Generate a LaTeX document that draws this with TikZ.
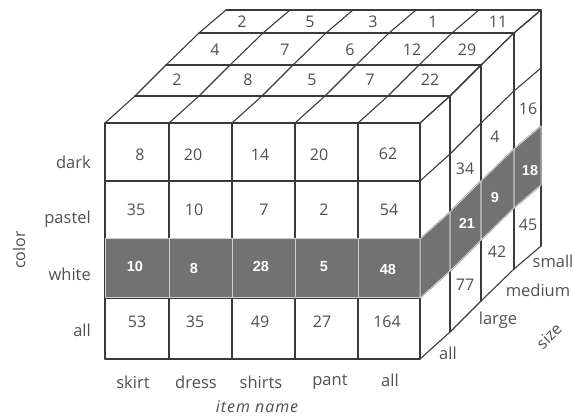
\documentclass[tikz,border=0pt]{standalone}
\usepackage{fontspec}
\usetikzlibrary{calc}
\setmainfont{Open Sans}
\newfontfamily\boldnum{Liberation Sans}[BoldFont={Liberation Sans Bold}]
\newfontfamily\axfont{Open Sans}[LetterSpace=6]
\definecolor{ln}{HTML}{3A3A3A}
\definecolor{tx}{HTML}{505050}
\definecolor{band}{HTML}{727272}
\definecolor{bandline}{HTML}{D0D0D0}
\tikzset{
  grid/.style={draw=ln, line width=1.1pt, line join=round, line cap=round},
  bandcell/.style={fill=band, draw=bandline, line width=1pt, line join=round},
  num/.style={text=tx, font=\fontsize{16}{18}\selectfont, inner sep=0pt},
  wnum/.style={text=white, font=\boldnum\bfseries\fontsize{14.5}{16}\selectfont, inner sep=0pt},
  lab/.style={text=tx, font=\fontsize{16.5}{18}\selectfont, inner sep=0pt},
  axlab/.style={text=tx, font=\axfont\itshape\fontsize{16}{18}\selectfont, inner sep=0pt},
  rotlab/.style={text=tx, font=\fontsize{16}{18}\selectfont, inner sep=0pt}
}
\begin{document}
\begin{tikzpicture}[x=1pt,y=-1pt]
\useasboundingbox (0,0) rectangle (574,419);
% front grid coordinates
\foreach \x [count=\i from 0] in {105,169,232,295,358,420}{
  \foreach \y [count=\j from 0] in {123,181,239,298,359}{
    \coordinate (f-\i-\j) at (\x,\y);
  }
}
% depth offsets
\foreach \dx/\dy [count=\k from 0] in {0/0,30/-27,61/-58,94/-90,121/-113}{
  \foreach \x [count=\i from 0] in {105,169,232,295,358,420}{
    \coordinate (t-\i-\k) at ($(\x,123)+(\dx,\dy)$);
  }
  \foreach \y [count=\j from 0] in {123,181,239,298,359}{
    \coordinate (r-\k-\j) at ($(420,\y)+(\dx,\dy)$);
  }
}
% grey band fills
\foreach \i [evaluate=\i as \ii using int(\i+1)] in {0,...,4}{
  \fill[band] (f-\i-2) rectangle (f-\ii-3);
}
\foreach \k [evaluate=\k as \kk using int(\k+1)] in {0,...,3}{
  \fill[band] (r-\k-2) -- (r-\kk-2) -- (r-\kk-3) -- (r-\k-3) -- cycle;
}
% front face
\foreach \j in {0,...,4}{ \draw[grid] (f-0-\j) -- (f-5-\j); }
\foreach \i in {0,...,5}{ \draw[grid] (f-\i-0) -- (f-\i-4); }
% top face
\foreach \k in {1,...,4}{ \draw[grid] (t-0-\k) -- (t-5-\k); }
\foreach \i in {0,...,5}{ \draw[grid] (t-\i-0) -- (t-\i-1) -- (t-\i-2) -- (t-\i-3) -- (t-\i-4); }
% right face
\foreach \k in {1,...,4}{ \draw[grid] (r-\k-0) -- (r-\k-4); }
\foreach \j in {0,...,4}{ \draw[grid] (r-0-\j) -- (r-1-\j) -- (r-2-\j) -- (r-3-\j) -- (r-4-\j); }
% grey band outlines
\foreach \i [evaluate=\i as \ii using int(\i+1)] in {0,...,4}{
  \draw[bandcell] (f-\i-2) rectangle (f-\ii-3);
}
\foreach \k [evaluate=\k as \kk using int(\k+1)] in {0,...,3}{
  \draw[bandcell] (r-\k-2) -- (r-\kk-2) -- (r-\kk-3) -- (r-\k-3) -- cycle;
}
% front numbers
\node[num] (n11) at (140,155) {8};
\node[num] (n12) at (193,155) {20};
\node[num] (n13) at (260,155) {14};
\node[num] (n14) at (319,155) {20};
\node[num] (n15) at (388,154) {62};
\node[num] (n21) at (136,210) {35};
\node[num] (n22) at (194,210) {10};
\node[num] (n23) at (264,210) {7};
\node[num] (n24) at (324,210) {2};
\node[num] (n25) at (389,210) {54};
\node[wnum] (n31) at (135,267) {10};
\node[wnum] (n32) at (194,269) {8};
\node[wnum] (n33) at (261,267) {28};
\node[wnum] (n34) at (324,267) {5};
\node[wnum] (n35) at (388,270) {48};
\node[num] (n41) at (137,322) {53};
\node[num] (n42) at (195,322) {35};
\node[num] (n43) at (260,322) {49};
\node[num] (n44) at (322,322) {27};
\node[num] (n45) at (387,322) {164};
% top numbers
\node[num] (s1) at (242,22) {2};
\node[num] (s2) at (310,22) {5};
\node[num] (s3) at (373,22) {3};
\node[num] (s4) at (433,22) {1};
\node[num] (s5) at (498,22) {11};
\node[num] (m1) at (215,50) {4};
\node[num] (m2) at (285,50) {7};
\node[num] (m3) at (350,50) {6};
\node[num] (m4) at (412,50) {12};
\node[num] (m5) at (467,50) {29};
\node[num] (l1) at (177,80) {2};
\node[num] (l2) at (248,80) {8};
\node[num] (l3) at (312,80) {5};
\node[num] (l4) at (370,80) {7};
\node[num] (l5) at (430,80) {22};
% right face numbers
\node[num] (rl1) at (465,169) {34};
\node[wnum] (rl2) at (467,223) {21};
\node[num] (rl3) at (465,285) {77};
\node[num] (rm1) at (495,137) {4};
\node[wnum] (rm2) at (495,198) {9};
\node[num] (rm3) at (497,252) {42};
\node[num] (rs1) at (528,109) {16};
\node[wnum] (rs2) at (530,171) {18};
\node[num] (rs3) at (528,225) {45};
% row labels
\node[lab, anchor=east] (dark) at (91,162) {dark};
\node[lab, anchor=east] (pastel) at (91,219) {pastel};
\node[lab, anchor=east] (white) at (91,274) {white};
\node[lab, anchor=east] (allr) at (91,330) {all};
\node[rotlab, rotate=90] (color) at (19,250) {color};
% column labels
\node[lab] (skirt) at (133,382) {skirt};
\node[lab] (dress) at (196,382) {dress};
\node[lab] (shirts) at (261,382) {shirts};
\node[lab] (pant) at (330,382) {pant};
\node[lab] (allc) at (390,380) {all};
\node[axlab] (item) at (257,407) {item name};
% size labels
\node[lab] (alls) at (448,353) {all};
\node[lab] (large) at (498,320) {large};
\node[lab] (medium) at (538,290) {medium};
\node[lab] (small) at (553,261) {small};
\node[rotlab, rotate=45] (size) at (549,336) {size};
\end{tikzpicture}
\end{document}
